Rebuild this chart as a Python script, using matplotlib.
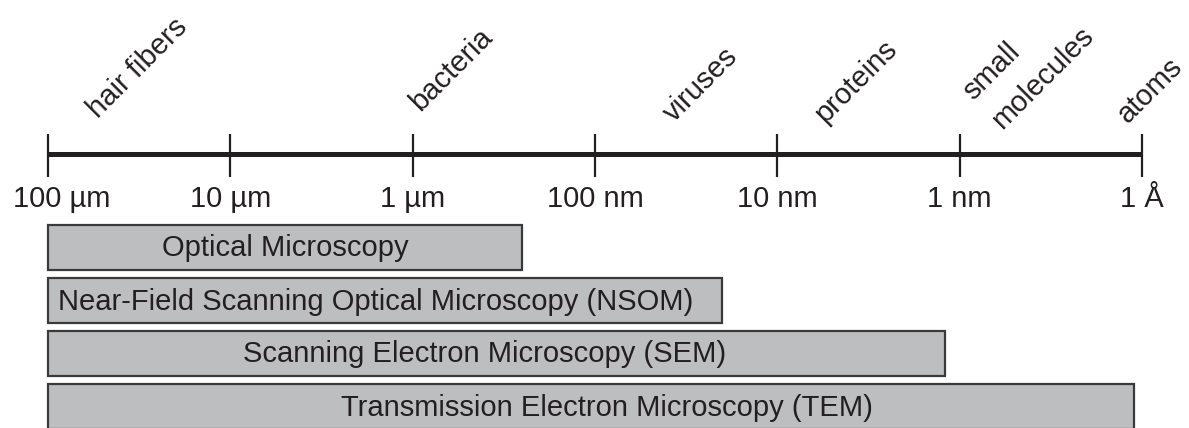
import matplotlib.pyplot as plt
import numpy as np

plt.rcParams['font.family'] = ['Liberation Sans', 'DejaVu Sans']

# length scale ticks, in metres
tick_sizes = [1e-4, 1e-5, 1e-6, 1e-7, 1e-8, 1e-9, 1e-10]
tick_labels = ["100 µm", "10 µm", "1 µm", "100 nm", "10 nm", "1 nm", "1 Å"]

# objects and a typical size, in metres
objects = ["hair fibers", "bacteria", "viruses", "proteins", "small\nmolecules", "atoms"]
object_sizes = [5.35e-5, 9.1e-7, 3.7e-8, 5.5e-9, 6.56e-10, 1.19e-10]

# techniques: range covered, from largest size down to resolution limit
techniques = ["Optical Microscopy",
              "Near-Field Scanning Optical Microscopy (NSOM)",
              "Scanning Electron Microscopy (SEM)",
              "Transmission Electron Microscopy (TEM)"]
range_max = [1e-4, 1e-4, 1e-4, 1e-4]
range_min = [2.5e-7, 2.0e-8, 1.2e-9, 1.1e-10]

ink = "#231f20"
bar_fill = "#bdbec0"
bar_edge = "#3a3a3a"

W, H = 1189, 428
fig = plt.figure(figsize=(W / 100, H / 100), dpi=100)
ax = fig.add_axes([0, 0, 1, 1])
ax.set_xscale('log')

# the scale runs from 100 um at x=48 px to 1 A at x=1142 px
px_per_dec = (1142 - 48) / 6
ax.set_xlim(10 ** (-4 + 48 / px_per_dec), 10 ** (-10 - (W - 1142) / px_per_dec))
ax.set_ylim(H, 0)
ax.axis('off')

# scale bar
ax.plot([tick_sizes[0], tick_sizes[-1]], [154, 154], color=ink, lw=3.6,
        solid_capstyle='butt')
ax.vlines(tick_sizes, 134, 177, color=ink, lw=1.6)
tick_dx = [14, 0, 0, 0, 0, 0, 0]
for s, lab, dx in zip(tick_sizes, tick_labels, tick_dx):
    ax.annotate(lab, (s, 207), xytext=(dx, 0), textcoords='offset pixels',
                ha='center', va='baseline', fontsize=21, color=ink)

# object labels
label_y = [119, 112, 123, 124, 121, 124]
for s, name, y in zip(object_sizes, objects, label_y):
    ax.text(s, y, name, rotation=45, rotation_mode='anchor', ha='left',
            va='baseline', fontsize=21, color=ink, linespacing=1.6)

# technique bars
bar_y = 247.5 + 53 * np.arange(len(techniques))
lo = np.array(range_min)
hi = np.array(range_max)
ax.barh(bar_y, hi - lo, left=lo, height=45, color=bar_fill,
        edgecolor=bar_edge, linewidth=1.6)
text_dx = [0, -10, -12, 16]
for y, a, b, name, dx in zip(bar_y, lo, hi, techniques, text_dx):
    ax.annotate(name, (np.sqrt(a * b), y + 9), xytext=(dx, 0),
                textcoords='offset pixels', ha='center', va='baseline',
                fontsize=21, color=ink)

fig.savefig("out.png", dpi=100)
